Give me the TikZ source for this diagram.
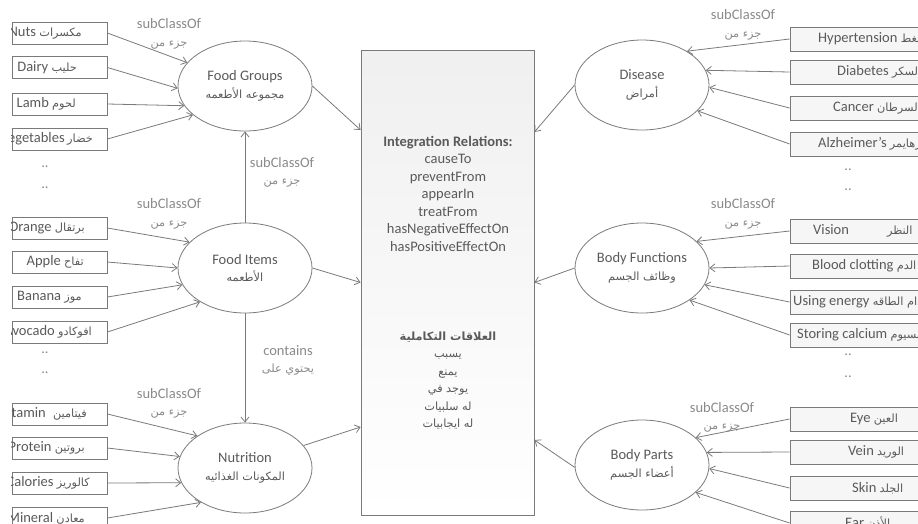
\documentclass[tikz,border=0pt]{standalone}
\usepackage{fontspec}
\setmainfont{Carlito}
\newfontfamily\arabicfont[Script=Arabic,Scale=0.78]{DejaVu Sans}
\TeXXeTstate=1
\usepackage{tikz}
\usetikzlibrary{shapes.geometric,arrows.meta}
\newcommand{\arb}[1]{{\arabicfont\beginR #1\endR}}
\definecolor{linegray}{HTML}{7A7A7A}
\definecolor{textgray}{HTML}{5A5A5A}
\definecolor{softgray}{HTML}{8A8A8A}

\tikzset{
  cls/.style={ellipse,draw=linegray,line width=0.8pt,fill=white,minimum width=134pt,minimum height=90pt,inner sep=0pt,align=center,text=textgray},
  leftbox/.style={draw=linegray,line width=0.8pt,fill=white,minimum width=95pt,minimum height=22pt,inner sep=0pt},
  rightbox/.style={draw=linegray,line width=0.8pt,fill=gray!7,minimum width=160pt,minimum height=24pt,inner sep=0pt},
  itemtext/.style={text=textgray,inner sep=0pt},
  linktext/.style={text=softgray,align=center,inner sep=0pt},
  morerows/.style={text=softgray,inner sep=0pt},
  link/.style={draw=linegray,line width=0.8pt,-{Straight Barb[length=5pt,width=8pt]}}
}

\begin{document}
\begin{tikzpicture}[x=1pt,y=-1pt,font=\fontsize{14.5}{17.5}\selectfont]
\useasboundingbox (0,0) rectangle (918,523);
\clip (11.5,0) rectangle (918,523);
% central box
\node[draw=linegray,line width=0.8pt,top color=gray!12,bottom color=white,minimum width=173pt,minimum height=465pt,inner sep=0pt] (rel) at (447.5,282.5) {};
\node[itemtext,align=center] (rel-en) at (448,193.5) {\textbf{Integration Relations:}\\causeTo\\preventFrom\\appearIn\\treatFrom\\hasNegativeEffectOn\\hasPositiveEffectOn};
\node[itemtext,align=center] (rel-ar) at (448,380.5) {\arb{\textbf{العلاقات التكاملية}}\\\arb{يسبب}\\\arb{يمنع}\\\arb{يوجد في}\\\arb{له سلبيات}\\\arb{له ايجابيات}};
% classes
\node[cls] (fg) at (245,86) {Food Groups\\\arb{مجموعه الأطعمه}};
\node[cls] (fi) at (245,268) {Food Items\\\arb{الأطعمه}};
\node[cls] (nu) at (245,468) {Nutrition\\\arb{المكونات الغذائيه}};
\node[cls] (dis) at (642,85) {Disease\\\arb{أمراض}};
\node[cls] (bf) at (642,268) {Body Functions\\\arb{وظائف الجسم}};
\node[cls] (bp) at (642,465) {Body Parts\\\arb{أعضاء الجسم}};
% left boxes
\node[leftbox] (nuts) at (59.5,33) {};
\node[itemtext,anchor=east] (nuts-t) at (82,33) {Nuts \arb{مكسرات}};
\node[leftbox] (dairy) at (59.5,67.5) {};
\node[itemtext,anchor=east] (dairy-t) at (77,67.5) {Dairy \arb{حليب}};
\node[leftbox] (lamb) at (59.5,104) {};
\node[itemtext,anchor=east] (lamb-t) at (76,104) {Lamb \arb{لحوم}};
\node[leftbox] (veg) at (59.5,139) {};
\node[itemtext,anchor=east] (veg-t) at (93,139) {Vegetables\,\arb{خضار}};
\node[leftbox] (orange) at (59.5,228) {};
\node[itemtext,anchor=east] (orange-t) at (85,228) {Orange \arb{برتقال}};
\node[leftbox] (apple) at (59.5,262) {};
\node[itemtext,anchor=east] (apple-t) at (84,262) {Apple \arb{تفاح}};
\node[leftbox] (banana) at (59.5,297) {};
\node[itemtext,anchor=east] (banana-t) at (82,297) {Banana \arb{موز}};
\node[leftbox] (avocado) at (59.5,332) {};
\node[itemtext,anchor=east] (avocado-t) at (92,332) {Avocado \arb{افوكادو}};
\node[leftbox] (vit) at (59.5,414) {};
\node[itemtext,anchor=east] (vit-t) at (87,414) {Vitamin\enspace\arb{فيتامين}};
\node[leftbox] (prot) at (59.5,448) {};
\node[itemtext,anchor=east] (prot-t) at (85,448) {Protein \arb{بروتين}};
\node[leftbox] (cal) at (59.5,483) {};
\node[itemtext,anchor=east] (cal-t) at (90,483) {Calories \arb{كالوريز}};
\node[leftbox] (mineral) at (59.5,518) {};
\node[itemtext,anchor=east] (mineral-t) at (85,518) {Mineral \arb{معادن}};
% right boxes
\node[rightbox] (hyp) at (870,39) {};
\node[itemtext,anchor=west] (hyp-t) at (818,39) {Hypertension \arb{ارتفاع الضغط}};
\node[rightbox] (diab) at (870,72) {};
\node[itemtext,anchor=west] (diab-t) at (837,72) {Diabetes \arb{مرض السكر}};
\node[rightbox] (cancer) at (870,108) {};
\node[itemtext,anchor=west] (cancer-t) at (833,108) {Cancer \arb{مرض السرطان}};
\node[rightbox] (alz) at (870,144) {};
\node[itemtext,anchor=west] (alz-t) at (818,144) {Alzheimer's \arb{مرض الزهايمر}};
\node[rightbox] (vision) at (870,231) {};
\node[itemtext,anchor=west] (vision-t) at (813,231) {Vision\hspace{38pt}\arb{النظر}};
\node[rightbox] (blood) at (870,266) {};
\node[itemtext,anchor=west] (blood-t) at (812,266) {Blood clotting \arb{تجلط الدم}};
\node[rightbox] (energy) at (870,302) {};
\node[itemtext,anchor=west] (energy-t) at (793,302) {Using energy \arb{استخدام الطاقه}};
\node[rightbox] (calcium) at (870,335) {};
\node[itemtext,anchor=west] (calcium-t) at (797,335) {Storing calcium \arb{تخزين الكالسيوم}};
\node[rightbox] (eye) at (870,419) {};
\node[itemtext,anchor=west] (eye-t) at (850,419) {Eye \arb{العين}};
\node[rightbox] (vein) at (870,452) {};
\node[itemtext,anchor=west] (vein-t) at (848,452) {Vein \arb{الوريد}};
\node[rightbox] (skin) at (870,488) {};
\node[itemtext,anchor=west] (skin-t) at (852,488) {Skin \arb{الجلد}};
\node[rightbox] (ear) at (870,523) {};
\node[itemtext,anchor=west] (ear-t) at (845,523) {Ear \arb{الأذن}};
% more rows
\foreach \px/\py [count=\i] in {45/167,45/188,45/353,45/373,848/170,848/190,848/355,848/377}{
    \node[morerows] (more\i) at (\px,\py) {..};
}
% subClassOf links
\draw[link] (nuts.east) -- (fg.158);
\draw[link] (dairy.east) -- (fg.182);
\draw[link] (lamb.east) -- (fg.198);
\draw[link] (veg.east) -- (fg.209);
\draw[link] (orange.east) -- (fi.155);
\draw[link] (apple.east) -- (fi.180);
\draw[link] (banana.east) -- (fi.195);
\draw[link] (avocado.east) -- (fi.217);
\draw[link] (vit.east) -- (nu.146);
\draw[link] (prot.east) -- (nu.170);
\draw[link] (cal.east) -- (nu.193);
\draw[link] (mineral.east) -- (nu.218);
\draw[link] (hyp.west) -- (dis.37);
\draw[link] (diab.west) -- (dis.13);
\draw[link] (cancer.west) -- (dis.-2);
\draw[link] (alz.west) -- (dis.-25);
\draw[link] (vision.west) -- (bf.26);
\draw[link] (blood.west) -- (bf.0);
\draw[link] (energy.west) -- (bf.-15);
\draw[link] (calcium.west) -- (bf.-34);
\draw[link] (eye.west) -- (bp.27);
\draw[link] (vein.west) -- (bp.11);
\draw[link] (skin.west) -- (bp.-3);
\draw[link] (ear.west) -- (bp.-27);
% class links
\draw[link] (fi.north) -- (fg.south);
\draw[link] (fi.south) -- (nu.north);
% to integration relations
\draw[link] (fg.east) -- ([yshift=152.5pt]rel.west);
\draw[link] (fi.east) -- (rel.west);
\draw[link] (nu.21) -- ([yshift=-144.5pt]rel.west);
\draw[link] (dis.west) -- ([yshift=150.5pt]rel.east);
\draw[link] (bf.west) -- (rel.east);
\draw[link] (bp.182) -- ([yshift=-157.5pt]rel.east);
% link labels
\node[linktext] (fg-sub) at (169,34) {subClassOf\\\arb{جزء من}};
\node[linktext] (fi-sub) at (169,214) {subClassOf\\\arb{جزء من}};
\node[linktext] (nu-sub) at (169,403.5) {subClassOf\\\arb{جزء من}};
\node[linktext] (dis-sub) at (743,25) {subClassOf\\\arb{جزء من}};
\node[linktext] (bf-sub) at (743,214) {subClassOf\\\arb{جزء من}};
\node[linktext] (bp-sub) at (722,417.5) {subClassOf\\\arb{جزء من}};
\node[linktext] (fgfi-sub) at (282,172.5) {subClassOf\\\arb{جزء من}};
\node[linktext] (fi-cont) at (288,360.5) {contains\\\arb{يحتوي على}};
\end{tikzpicture}
\end{document}
